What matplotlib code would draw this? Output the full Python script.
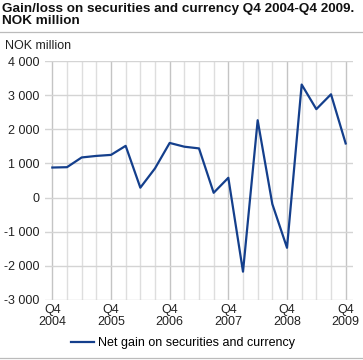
import matplotlib.pyplot as plt
from matplotlib.lines import Line2D

plt.rcParams['font.family'] = ['Liberation Sans', 'DejaVu Sans']

# quarterly values, Q4 2004 - Q4 2009
values = [880, 890, 1175, 1220, 1250, 1515, 290, 855, 1600, 1490, 1440, 140,
          580, -2170, 2265, -190, -1470, 3310, 2590, 3025, 1585]
tick_labels = ['Q4\n2004', 'Q4\n2005', 'Q4\n2006', 'Q4\n2007', 'Q4\n2008', 'Q4\n2009']
y_ticks = [-3000, -2000, -1000, 0, 1000, 2000, 3000, 4000]
series_name = 'Net gain on securities and currency'

def fmt(v):
    s = f"{abs(v):,}".replace(',', ' ')
    return ('-' if v < 0 else '') + s

fig = plt.figure(figsize=(3.63, 3.6), dpi=100)
ax = fig.add_axes([45/363, 60/360, 308/363, 239/360])

x = list(range(len(values)))
for q in x:
    ax.axvline(q, color='#c4c4c4' if q % 4 == 0 else '#dedede', lw=1.0, zorder=0)
for v in y_ticks:
    ax.axhline(v, color='#d4d4d4', lw=1.0, zorder=0)

ax.plot(x, values, color='#143f8c', lw=1.6, zorder=3)

ax.set_xlim(-0.5, len(values) - 0.5)
ax.set_ylim(-3000, 4000)
ax.set_yticks(y_ticks)
ax.set_yticklabels([fmt(v) for v in y_ticks])
ax.set_xticks([0, 4, 8, 12, 16, 20])
ax.set_xticklabels(tick_labels, linespacing=0.95)
ax.tick_params(length=0, labelsize=9, colors='#222222', pad=3)
ax.tick_params(axis='y', pad=4)
for s in ax.spines.values():
    s.set_visible(False)

fig.text(2/363, 1 - 3/360, 'Gain/loss on securities and currency Q4 2004-Q4 2009.\nNOK million',
         fontsize=9.7, fontweight='bold', va='top', ha='left', linespacing=1.0, color='#111111')
fig.add_artist(Line2D([0, 1], [1 - 32/360, 1 - 32/360], color='#bbbbbb', lw=0.9))
fig.text(5/363, 1 - 46/360, 'NOK million', fontsize=9, va='center', ha='left', color='#222222')

handle = Line2D([], [], color='#143f8c', lw=1.6)
fig.legend([handle], [series_name], loc='center', bbox_to_anchor=(183/363, 1 - 343/360),
           frameon=False, fontsize=9, handlelength=1.8, handletextpad=0.3)
fig.add_artist(Line2D([0, 1], [2/360, 2/360], color='#bbbbbb', lw=0.9))

fig.savefig('out.png', dpi=100)
